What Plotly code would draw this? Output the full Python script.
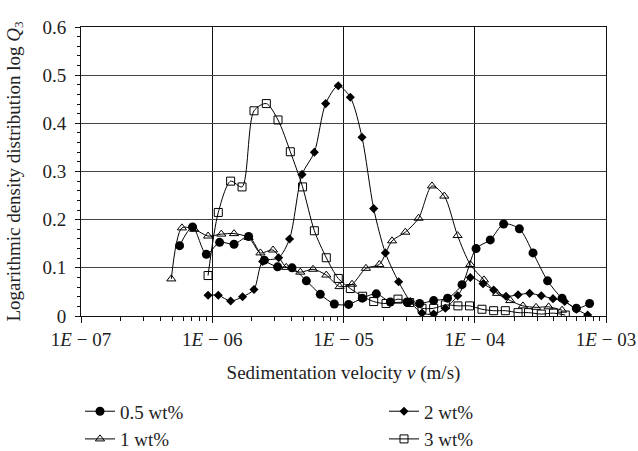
import plotly.graph_objects as go

# log10 of sedimentation velocity (m/s) and log Q3 values
x_05 = [-6.249, -6.150, -6.045, -5.944, -5.834, -5.723, -5.603, -5.502, -5.392, -5.283,
        -5.177, -5.070, -4.961, -4.857, -4.750, -4.643, -4.516, -4.420, -4.313, -4.207,
        -4.097, -3.990, -3.882, -3.780, -3.660, -3.556, -3.445, -3.335, -3.226, -3.125]
y_05 = [0.146, 0.185, 0.128, 0.153, 0.149, 0.165, 0.116, 0.102, 0.100, 0.073,
        0.045, 0.025, 0.024, 0.037, 0.046, 0.029, 0.029, 0.026, 0.032, 0.037,
        0.065, 0.140, 0.158, 0.191, 0.181, 0.131, 0.073, 0.037, 0.016, 0.026]

x_1 = [-6.312, -6.231, -6.137, -6.032, -5.931, -5.834, -5.723, -5.633, -5.537, -5.436,
       -5.329, -5.232, -5.131, -5.030, -4.935, -4.829, -4.727, -4.630, -4.529, -4.428,
       -4.326, -4.232, -4.131, -4.034, -3.930, -3.830, -3.729, -3.633, -3.533, -3.437,
       -3.335]
y_1 = [0.077, 0.183, 0.180, 0.166, 0.170, 0.171, 0.163, 0.131, 0.137, 0.101,
       0.091, 0.097, 0.085, 0.061, 0.066, 0.099, 0.107, 0.156, 0.174, 0.203,
       0.270, 0.249, 0.167, 0.107, 0.075, 0.047, 0.032, 0.021, 0.018, 0.019,
       0.012]

x_2 = [-6.032, -5.954, -5.860, -5.769, -5.682, -5.616, -5.494, -5.411, -5.316, -5.222,
       -5.136, -5.040, -4.948, -4.859, -4.770, -4.681, -4.580, -4.491, -4.402, -4.313,
       -4.224, -4.130, -4.034, -3.937, -3.856, -3.762, -3.670, -3.582, -3.493, -3.404,
       -3.315, -3.226, -3.140]
y_2 = [0.043, 0.043, 0.031, 0.040, 0.055, 0.113, 0.121, 0.160, 0.294, 0.340,
       0.441, 0.478, 0.454, 0.371, 0.223, 0.131, 0.071, 0.030, 0.006, 0.004,
       0.016, 0.042, 0.080, 0.067, 0.054, 0.041, 0.044, 0.047, 0.042, 0.036,
       0.030, 0.014, 0.002]

x_3 = [-6.032, -5.954, -5.860, -5.773, -5.682, -5.588, -5.499, -5.405, -5.312, -5.222,
       -5.131, -5.040, -4.948, -4.854, -4.770, -4.676, -4.585, -4.496, -4.402, -4.313,
       -4.224, -4.128, -4.040, -3.945, -3.856, -3.767, -3.670, -3.590, -3.493, -3.400,
       -3.310]
y_3 = [0.084, 0.215, 0.280, 0.268, 0.426, 0.441, 0.407, 0.341, 0.268, 0.177,
       0.121, 0.078, 0.057, 0.041, 0.030, 0.026, 0.035, 0.028, 0.016, 0.016,
       0.023, 0.021, 0.021, 0.014, 0.011, 0.011, 0.007, 0.007, 0.004, 0.006,
       0.002]

x_tick_vals = [1e-7, 1e-6, 1e-5, 1e-4, 1e-3]
x_tick_text = ["1<i>E</i> − 07", "1<i>E</i> − 06", "1<i>E</i> − 05", "1<i>E</i> − 04", "1<i>E</i> − 03"]
y_title = "Logarithmic density distribution log <i>Q</i><sub>3</sub>"
x_title = "Sedimentation velocity <i>v</i> (m/s)"

series = [
    ("0.5 wt%", x_05, y_05, dict(symbol="circle", size=9, color="black"), "legend"),
    ("1 wt%", x_1, y_1, dict(symbol="triangle-up-open", size=8, color="black",
                            line=dict(width=1, color="black")), "legend"),
    ("2 wt%", x_2, y_2, dict(symbol="diamond", size=7, color="black"), "legend2"),
    ("3 wt%", x_3, y_3, dict(symbol="square-open", size=8, color="black",
                            line=dict(width=1, color="black")), "legend2"),
]

fig = go.Figure()
for name, xs, ys, mk, lg in series:
    fig.add_trace(go.Scatter(
        x=[10 ** v for v in xs], y=ys, name=name, mode="lines+markers",
        line=dict(color="black", width=1, shape="spline", smoothing=0.8),
        marker=mk, legend=lg,
    ))

minor_x = [m * 10 ** e for e in range(-7, -3) for m in range(2, 10)]

font_family = "Liberation Serif, Times New Roman, serif"
legend_common = dict(orientation="v", xref="container", yref="container",
                     xanchor="left", yanchor="top", y=0.130,
                     font=dict(size=19, family=font_family, color="#222"),
                     bgcolor="rgba(0,0,0,0)", tracegroupgap=0)
fig.update_layout(
    width=638, height=451,
    margin=dict(l=81, r=32, t=27, b=135, autoexpand=False),
    paper_bgcolor="white", plot_bgcolor="white",
    font=dict(family=font_family, size=19, color="#222"),
    showlegend=True,
    legend=dict(x=80 / 638, **legend_common),
    legend2=dict(x=384 / 638, **legend_common),
    xaxis=dict(
        type="log", range=[-7, -3], automargin=True,
        tickmode="array", tickvals=x_tick_vals, ticktext=x_tick_text,
        showgrid=True, gridcolor="#111", gridwidth=1,
        showline=True, linecolor="#111", linewidth=1, mirror=True,
        ticks="outside", ticklen=6, tickcolor="#111",
        minor=dict(tickmode="array", tickvals=minor_x, ticks="outside", ticklen=4,
                   tickcolor="#111", showgrid=False),
        title=dict(text=x_title, standoff=16, font=dict(size=19)),
        zeroline=False,
    ),
    yaxis=dict(
        range=[0, 0.6], tickmode="linear", tick0=0, dtick=0.1, automargin=True,
        showgrid=True, gridcolor="#444", gridwidth=1,
        showline=True, linecolor="#111", linewidth=1, mirror=True,
        ticks="outside", ticklen=5, tickcolor="#111", ticklabelstandoff=5,
        minor=dict(dtick=0.02, ticks="outside", ticklen=3, tickcolor="#111", showgrid=False),
        zeroline=False,
    ),
    annotations=[dict(
        text=y_title, textangle=-90, xref="paper", yref="paper",
        x=(14 - 81) / 525, y=0.5, xanchor="center", yanchor="middle",
        showarrow=False, font=dict(size=19, family=font_family, color="#222"),
    )],
)

fig.write_html("out.html", config={"displayModeBar": False},
               post_script="document.body.style.margin='0px';")
